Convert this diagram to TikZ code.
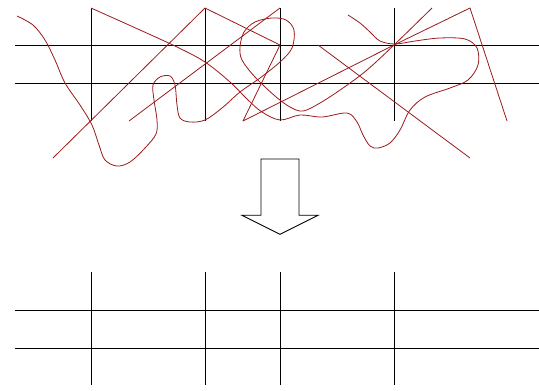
\documentclass[tikz,border=0pt]{standalone}
\definecolor{strokered}{RGB}{155,25,25}
\tikzset{
  gridline/.style={black, line width=0.6pt},
  stroke/.style={strokered, line width=0.6pt, line join=round},
  bigarrow/.style={black, line width=0.6pt, fill=white}
}
\begin{document}
\begin{tikzpicture}[x=0.75pt, y=-0.75pt]
\useasboundingbox (0,0) rectangle (539,390);
% top grid
\foreach \yy in {45,83} \draw[gridline] (15.3,\yy) -- (539,\yy);
\foreach \xx in {91,205,280,394} \draw[gridline] (\xx,8) -- (\xx,121);
% red strokes
\draw[stroke] (53,158) -- (205,8) -- (280,45) -- (243,121) -- (394,45) -- (470,8) -- (507,121);
\draw[stroke] (129,121) -- (280,8);
\draw[stroke] (318,45) -- (470,158);
\draw[stroke] plot[smooth, tension=0.55] coordinates {
 (91,8) (140,30) (177,47) (205,62) (230,82) (248,100) (262,112) (280,120)
 (300,115) (322,117) (347,113) (357,122) (363,135) (370,146) (378,148) (390,143)
 (400,130) (410,110) (425,97) (450,88) (468,80) (478,65) (477,48) (465,39)
 (440,38) (415,41) (395,44) (380,41) (370,32) (360,23) (348,15)};
\draw[stroke] plot[smooth, tension=0.55] coordinates {
 (17,16) (33,25) (45,40) (55,60) (65,83) (80,105) (92,125) (99,145) (105,160)
 (117,166) (130,162) (145,148) (156,134) (157,120) (154,100) (153,85) (160,77)
 (170,76) (175,85) (177,105) (180,118) (190,122) (205,120) (222,108) (240,92)
 (260,78) (280,62) (292,48) (294,30) (286,20) (272,18) (255,22) (244,32) (240,47)
 (242,60) (255,77) (275,96) (290,107) (303,111) (320,103) (343,88) (367,70)
 (394,45) (432,8)};
% arrow
\draw[bigarrow] (261,159) -- (299,159) -- (299,215.3) -- (318,215.3) -- (280,234.3) -- (242,215.3) -- (261,215.3) -- cycle;
% bottom grid
\foreach \yy in {310,348} \draw[gridline] (15.3,\yy) -- (539,\yy);
\foreach \xx in {91,205,280,394} \draw[gridline] (\xx,272) -- (\xx,385);
\end{tikzpicture}
\end{document}
